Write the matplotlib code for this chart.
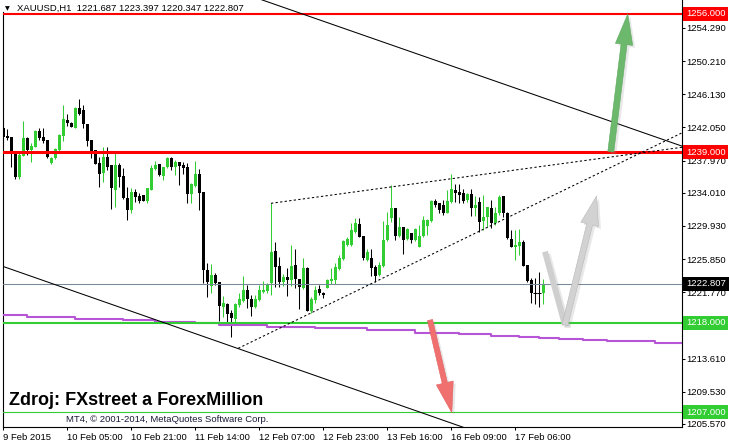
import matplotlib
matplotlib.use("Agg")
import matplotlib.pyplot as plt
import matplotlib.patheffects as pe
from matplotlib.patches import FancyArrowPatch, ArrowStyle
from matplotlib.transforms import blended_transform_factory

plt.rcParams['font.family'] = ['Liberation Sans', 'DejaVu Sans']

# ---- candle data (XAUUSD H1), bar index 0 = 9 Feb 2015 ----
opens = [1241.93, 1240.99, 1240.91, 1238.86, 1235.91, 1238.57, 1240.70, 1239.27, 1239.68, 1241.61,
         1240.83, 1240.50, 1237.63, 1238.25, 1239.27, 1241.03, 1242.96, 1242.63, 1242.02, 1244.48,
         1244.19, 1242.47, 1240.50, 1239.27, 1237.71, 1236.48, 1238.45, 1237.43, 1234.35, 1237.43,
         1236.07, 1233.33, 1231.89, 1234.15, 1233.61, 1233.74, 1233.04, 1234.35, 1236.93, 1237.55,
         1236.11, 1237.14, 1238.25, 1237.22, 1237.84, 1237.43, 1237.14, 1233.82, 1234.88, 1236.32,
         1234.06, 1224.51, 1222.54, 1223.90, 1222.99, 1220.00, 1220.33, 1219.26, 1218.44, 1220.16,
         1220.74, 1222.05, 1220.94, 1220.00, 1220.82, 1221.85, 1221.97, 1222.87, 1226.89, 1225.00,
         1223.08, 1223.69, 1223.28, 1225.12, 1223.36, 1222.26, 1224.72, 1219.51, 1220.82, 1222.13,
         1221.72, 1222.34, 1223.20, 1223.28, 1224.59, 1225.86, 1227.59, 1227.59, 1229.23, 1230.17,
         1228.69, 1225.74, 1225.95, 1224.92, 1223.90, 1225.00, 1228.20, 1230.87, 1232.10, 1228.69,
         1229.84, 1228.28, 1229.10, 1228.20, 1227.38, 1228.69, 1229.92, 1230.54, 1233.04, 1232.71,
         1232.50, 1231.56, 1232.92, 1234.35, 1234.14, 1233.94, 1233.12, 1233.86, 1232.10, 1232.92,
         1230.58, 1230.99, 1232.10, 1230.25, 1231.48, 1233.61, 1231.56, 1228.28, 1227.38, 1227.46,
         1227.99, 1225.12, 1223.28, 1221.72, 1221.72, 1221.687]
highs = [1243.37, 1241.81, 1240.91, 1238.86, 1238.86, 1242.84, 1240.91, 1240.09, 1241.73, 1241.93,
         1241.93, 1240.50, 1238.45, 1239.48, 1241.20, 1244.80, 1243.70, 1242.75, 1244.60, 1245.54,
         1244.80, 1242.47, 1240.50, 1239.27, 1238.45, 1239.60, 1239.60, 1237.43, 1238.94, 1237.63,
         1237.02, 1234.76, 1234.56, 1234.43, 1233.94, 1233.74, 1234.64, 1237.43, 1237.96, 1237.55,
         1237.22, 1238.37, 1238.45, 1238.04, 1237.84, 1237.84, 1237.71, 1235.25, 1237.92, 1236.89,
         1234.14, 1225.33, 1225.25, 1224.10, 1223.08, 1221.31, 1220.49, 1219.59, 1220.41, 1221.64,
         1223.77, 1222.67, 1221.44, 1221.44, 1222.67, 1223.20, 1222.95, 1232.71, 1228.00, 1226.07,
         1224.02, 1224.72, 1227.59, 1227.05, 1223.36, 1225.95, 1224.84, 1221.23, 1222.54, 1222.67,
         1221.85, 1223.36, 1224.72, 1225.41, 1226.36, 1228.20, 1228.53, 1230.33, 1230.87, 1230.87,
         1228.69, 1227.05, 1227.05, 1225.12, 1225.54, 1230.50, 1231.69, 1234.97, 1232.10, 1231.07,
         1229.84, 1229.64, 1229.10, 1229.64, 1230.05, 1231.15, 1230.74, 1233.12, 1233.20, 1232.79,
         1233.12, 1234.35, 1236.32, 1235.09, 1235.09, 1234.43, 1234.02, 1234.43, 1233.61, 1233.53,
         1233.74, 1232.30, 1233.12, 1232.30, 1233.74, 1233.61, 1231.69, 1229.43, 1229.43, 1229.51,
         1228.20, 1225.12, 1223.49, 1223.49, 1224.31, 1223.397]
lows = [1240.42, 1240.50, 1237.22, 1235.66, 1235.66, 1238.57, 1238.65, 1237.84, 1239.60, 1240.50,
        1240.09, 1238.33, 1237.59, 1238.16, 1239.15, 1240.42, 1242.26, 1242.06, 1241.94, 1243.58,
        1241.94, 1239.76, 1238.33, 1237.55, 1234.76, 1235.38, 1236.81, 1231.97, 1232.30, 1234.76,
        1233.24, 1230.66, 1231.48, 1232.92, 1232.71, 1233.04, 1232.71, 1234.35, 1236.81, 1236.07,
        1235.58, 1237.02, 1236.81, 1236.20, 1234.96, 1236.32, 1232.79, 1232.71, 1234.76, 1231.89,
        1222.87, 1221.23, 1221.64, 1222.67, 1218.28, 1218.77, 1218.03, 1216.23, 1218.16, 1220.00,
        1220.62, 1219.80, 1218.85, 1219.80, 1220.74, 1221.64, 1221.72, 1221.44, 1222.46, 1222.46,
        1222.54, 1221.31, 1222.54, 1222.26, 1219.67, 1222.13, 1219.51, 1219.26, 1220.49, 1221.44,
        1221.03, 1222.26, 1222.79, 1222.79, 1224.51, 1225.74, 1227.46, 1227.46, 1229.10, 1228.53,
        1225.74, 1225.62, 1223.77, 1223.08, 1223.77, 1224.92, 1228.08, 1230.46, 1228.20, 1228.61,
        1226.48, 1228.20, 1227.79, 1228.12, 1227.30, 1228.61, 1228.82, 1230.46, 1232.30, 1231.48,
        1231.27, 1231.48, 1232.79, 1232.92, 1232.71, 1232.71, 1232.92, 1231.15, 1231.15, 1229.23,
        1229.43, 1229.84, 1229.64, 1230.05, 1231.27, 1231.07, 1228.28, 1227.30, 1225.74, 1226.36,
        1225.00, 1223.08, 1220.41, 1220.33, 1220.00, 1220.347]
closes = [1240.91, 1240.79, 1238.78, 1235.99, 1238.65, 1240.70, 1239.27, 1239.76, 1241.61, 1240.79,
          1240.38, 1238.45, 1238.29, 1239.35, 1241.12, 1243.08, 1242.55, 1242.14, 1244.48, 1243.70,
          1242.43, 1240.38, 1238.98, 1237.55, 1236.32, 1238.45, 1237.14, 1234.64, 1237.43, 1235.99,
          1233.33, 1231.89, 1234.15, 1233.53, 1233.04, 1233.04, 1234.56, 1237.02, 1237.43, 1236.20,
          1237.14, 1238.25, 1237.22, 1237.84, 1237.34, 1237.10, 1233.82, 1235.09, 1236.32, 1234.02,
          1224.51, 1223.08, 1223.90, 1222.87, 1220.12, 1220.49, 1219.10, 1218.57, 1220.33, 1220.90,
          1222.05, 1220.90, 1220.00, 1220.90, 1222.05, 1222.05, 1222.79, 1226.77, 1224.84, 1223.08,
          1223.69, 1223.28, 1225.00, 1223.36, 1222.38, 1224.72, 1219.51, 1220.90, 1222.05, 1221.64,
          1221.44, 1223.28, 1223.36, 1224.92, 1226.03, 1228.12, 1228.28, 1229.43, 1230.25, 1228.61,
          1225.95, 1226.77, 1224.72, 1223.77, 1225.12, 1228.20, 1230.05, 1232.10, 1228.69, 1229.84,
          1228.20, 1229.51, 1228.20, 1229.51, 1228.69, 1230.66, 1230.66, 1233.04, 1232.50, 1231.89,
          1231.48, 1233.04, 1234.43, 1233.94, 1233.74, 1233.04, 1233.86, 1232.10, 1232.50, 1230.46,
          1230.99, 1232.22, 1230.25, 1231.56, 1233.53, 1231.56, 1228.41, 1227.38, 1227.59, 1227.99,
          1225.00, 1223.20, 1221.72, 1221.72, 1221.70, 1222.807]

# moving average (stepped) : start bar of each step and its value
ma_start = [-1, 6, 18, 30, 38, 48, 54, 66, 78, 91, 103, 114, 122, 129, 134, 139, 145, 151, 157, 163, 171]
ma_value = [1218.93, 1218.75, 1218.51, 1218.31, 1218.10, 1217.94, 1217.73, 1217.52, 1217.32, 1217.08,
            1216.78, 1216.60, 1216.40, 1216.25, 1216.12, 1216.00, 1215.88, 1215.79, 1215.72, 1215.51, 1215.51]

# horizontal levels
level_prices = [1256.0, 1239.0, 1218.0, 1207.0]
level_colors = ['#ff0000', '#ff0000', '#32cd32', '#32cd32']
level_widths = [1.5, 2.2, 1.5, 0.8]
last_price = 1222.807

# trend lines (bar, price) anchors
channel_top = [(60, 1258.55), (172, 1239.36)]
channel_bottom = [(-1, 1225.12), (120, 1204.31)]
wedge_top = [(67, 1232.71), (170, 1239.62)]
wedge_bottom = [(58.8, 1214.87), (170, 1241.44)]

# arrows (bar, price)
green_arrow = [(151.95, 1239.06), (156.2, 1256.0)]
red_arrow = [(106.75, 1218.35), (112.2, 1206.95)]
grey_v = [(135.5, 1226.76), (140.5, 1217.74), (148.4, 1233.61)]

ytick_vals = [1254.290, 1250.210, 1246.130, 1242.050, 1237.970, 1234.010, 1229.930,
              1225.850, 1221.770, 1213.610, 1209.530, 1205.570]
xtick_bars = [0, 16, 32, 48, 64, 80, 96, 112, 128]
xtick_labels = ['9 Feb 2015', '10 Feb 05:00', '10 Feb 21:00', '11 Feb 14:00', '12 Feb 07:00',
                '12 Feb 23:00', '13 Feb 16:00', '16 Feb 09:00', '17 Feb 06:00']

W, H = 729, 445
fig = plt.figure(figsize=(W / 100, H / 100), dpi=100)
ax_l, ax_r, ax_t, ax_b = 2.5, 681.7, 0.0, 426.7
ax = fig.add_axes([ax_l / W, 1 - ax_b / H, (ax_r - ax_l) / W, (ax_b - ax_t) / H])
ax.set_xlim(-0.125, 169.675)
ax.set_ylim(1205.23, 1257.722)

GREEN = '#32cd32'
# candles
for i, (o, h, l, c) in enumerate(zip(opens, highs, lows, closes)):
    col = GREEN if c > o else 'black'
    ax.vlines(i, l, h, colors=col, lw=0.75, zorder=2)
    if abs(c - o) < 0.08:
        ax.hlines(o, i - 0.4, i + 0.4, colors=col, lw=0.75, zorder=2)
    else:
        ax.bar(i, abs(c - o), bottom=min(o, c), width=0.75, color=col, lw=0, zorder=2)

# moving average
ax.step(ma_start, ma_value, where='post', color='#b655d6', lw=1.5, zorder=3)

# levels
for p, col, lw in zip(level_prices, level_colors, level_widths):
    ax.axhline(p, color=col, lw=lw, zorder=4)
ax.axhline(last_price, color='#778899', lw=0.75, zorder=3)

# trend lines
for pts, ls in [(channel_top, '-'), (channel_bottom, '-'),
                (wedge_top, (0, (2.2, 2.2))), (wedge_bottom, (0, (2.2, 2.2)))]:
    ax.plot([pts[0][0], pts[1][0]], [pts[0][1], pts[1][1]], color='black', lw=0.75, ls=ls, zorder=4)

shadow = [pe.SimplePatchShadow(offset=(1.8, -1.8), shadow_rgbFace='#999999', alpha=0.22), pe.Normal()]


def arrow(a, b, col, ec, tail=4.3, hw=12.5, hl=22):
    st = ArrowStyle.Simple(head_length=hl, head_width=hw, tail_width=tail)
    ar = FancyArrowPatch(a, b, arrowstyle=st, mutation_scale=1, shrinkA=0, shrinkB=0,
                         fc=col, ec=ec, lw=0.4, zorder=6, path_effects=shadow)
    ax.add_patch(ar)


arrow(green_arrow[0], green_arrow[1], '#6cb86c', '#5aa85a')
arrow(red_arrow[0], red_arrow[1], '#f07070', '#e06060', tail=3.8, hw=12.5)
ax.plot([grey_v[0][0], grey_v[1][0]], [grey_v[0][1], grey_v[1][1]], color='#cfcfcf', lw=4.3,
        solid_capstyle='butt', zorder=6,
        path_effects=[pe.SimpleLineShadow(offset=(1.8, -1.8), shadow_color='#999999', alpha=0.22), pe.Normal()])
arrow(grey_v[1], grey_v[2], '#d2d2d2', '#b8b8b8', hw=13, hl=21)

# axes styling
ax.spines['top'].set_visible(False)
for s in ['left', 'right', 'bottom']:
    ax.spines[s].set_linewidth(0.8)
ax.spines['left'].set_bounds(1205.23, 1256.25)
ax.yaxis.tick_right()
ax.set_yticks(ytick_vals)
ax.set_yticklabels([f'{v:.3f}' for v in ytick_vals])
ax.set_xticks(xtick_bars)
ax.set_xticklabels(xtick_labels)
for lab in ax.get_xticklabels():
    lab.set_ha('left')
ax.tick_params(axis='both', direction='out', length=2.2, width=0.75, labelsize=6.8, pad=1.2)
ax.tick_params(axis='x', pad=2.0)

# price tags on the right
tr = blended_transform_factory(ax.transAxes, ax.transData)
tags = list(zip(level_prices, level_colors)) + [(last_price, 'black')]
for p, col in tags:
    ax.text(1.0065, p, f'{p:.3f}', transform=tr, ha='left', va='center', fontsize=6.8,
            color='white', clip_on=False, zorder=10,
            bbox=dict(boxstyle='square,pad=0.28', fc=col, ec='none'))

# header and captions
fig.text(5 / W, 1 - 9 / H, '\u25bc', fontsize=4.5, family='DejaVu Sans', va='center', ha='left')
fig.text(17 / W, 1 - 8.5 / H, 'XAUUSD,H1  1221.687 1223.397 1220.347 1222.807', fontsize=6.8,
         va='center', ha='left', color='black')
fig.text(9 / W, 1 - 405 / H, 'Zdroj: FXstreet a ForexMillion', fontsize=13, fontweight='bold',
         va='baseline', ha='left', color='black')
fig.text(66 / W, 1 - 420 / H, 'MT4, \u00a9 2001-2014, MetaQuotes Software Corp.', fontsize=6.8,
         va='center', ha='left', color='#1a1a3a')

fig.savefig('out.png', dpi=100, facecolor='white')
